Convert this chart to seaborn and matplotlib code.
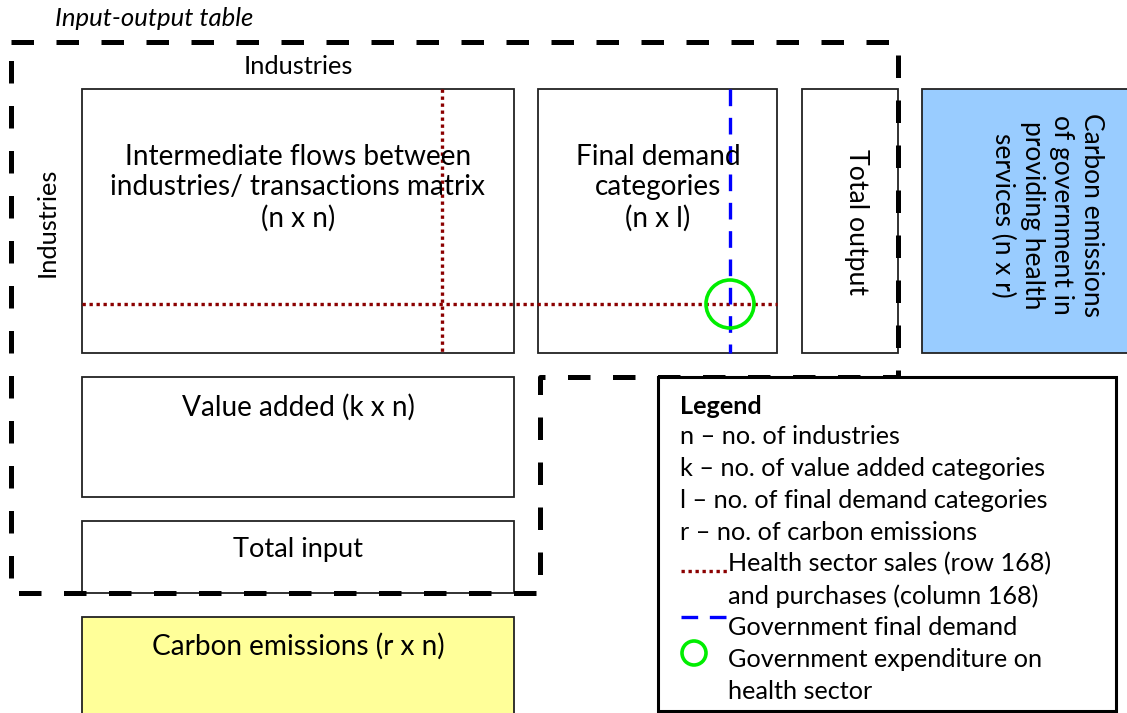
import matplotlib
matplotlib.use("Agg")
import matplotlib.pyplot as plt
import seaborn as sns
from matplotlib.patches import Rectangle, Circle

sns.set_theme(style="white")
plt.rcParams['font.family'] = ['Lato', 'DejaVu Sans']
plt.rcParams['text.color'] = 'black'

# ---- content ----
title = "Input-output table"
top_label = "Industries"
side_label = "Industries"
box_labels = [
    "Intermediate flows between\nindustries/ transactions matrix\n(n x n)",
    "Final demand\ncategories\n(n x l)",
    "Total output",
    "Carbon emissions\nof government in\nproviding health\nservices (n x r)",
    "Value added (k x n)",
    "Total input",
    "Carbon emissions (r x n)",
]
box_fills = ["white", "white", "white", "#99ccff", "white", "white", "#ffff99"]
legend_title = "Legend"
legend_lines = [
    "n \u2013 no. of industries",
    "k \u2013 no. of value added categories",
    "l \u2013 no. of final demand categories",
    "r \u2013 no. of carbon emissions",
]
legend_mark_lines = [
    "Health sector sales (row 168)",
    "and purchases (column 168)",
    "Government final demand",
    "Government expenditure on",
    "health sector",
]

# ---- layout (pixel coordinates) ----
W, H = 1127, 713
boxes = [  # x0, y0, x1, y1
    (82, 89, 514, 353),
    (538, 89, 777, 353),
    (802, 89, 898, 353),
    (922, 89, 1135, 353),
    (82, 377, 514, 497),
    (82, 521, 514, 593),
    (82, 617, 514, 720),
]
text_pos = [  # x, y, rotation, fontsize
    (298, 188, 0, 20.2),
    (658, 188, 0, 20.2),
    (857, 222, 270, 19.2),
    (1047, 215, 270, 19.0),
    (298, 407, 0, 20.2),
    (298, 550, 0, 19.6),
    (298, 646, 0, 20.2),
]

fig = plt.figure(figsize=(W / 100, H / 100), dpi=100)
ax = fig.add_axes([0, 0, 1, 1])
ax.set_xlim(0, W)
ax.set_ylim(H, 0)
ax.axis('off')

for (x0, y0, x1, y1), fc, lab, (tx, ty, rot, fs) in zip(boxes, box_fills, box_labels, text_pos):
    ax.add_patch(Rectangle((x0, y0), x1 - x0, y1 - y0, facecolor=fc,
                           edgecolor='#222222', lw=1.3, zorder=1))
    ax.text(tx, ty, lab, ha='center', va='center', rotation=rot, fontsize=fs,
            multialignment='center', linespacing=1.22, color='black', zorder=5)

# health sector row/column (dotted dark red)
ax.plot([82, 777], [304, 304], color='#8b0000', lw=2.4, ls=(0, (1, 1.1)), zorder=3)
ax.plot([442, 442], [89, 353], color='#8b0000', lw=2.4, ls=(0, (1, 1.1)), zorder=3)
# government final demand (dashed blue)
ax.plot([730, 730], [89, 353], color='#0000ff', lw=2.4, ls=(0, (5, 3.5)), zorder=3)
# government expenditure on health
ax.add_patch(Circle((730, 304), 24, fill=False, edgecolor='#00ee00', lw=2.6, zorder=4))

# input-output table boundary (thick dashed)
bx = [11, 898, 898, 540, 540, 11, 11]
by = [42, 42, 377, 377, 593, 593, 42]
ax.plot(bx, by, color='black', lw=3.6, ls=(0, (4.5, 4.5)), zorder=6,
        solid_capstyle='butt', dash_capstyle='butt')

ax.text(55, 18, title, fontsize=18.5, style='italic', ha='left', va='center', color='black')
ax.text(298, 67, top_label, fontsize=18.3, ha='center', va='center', color='black')
ax.text(47, 222, side_label, fontsize=18.3, ha='center', va='center', rotation=90, color='black')

# legend
LFS = 18.2
ax.add_patch(Rectangle((658, 377), 458, 334, facecolor='white', edgecolor='black',
                       lw=2.2, zorder=7))
ax.text(680, 407, legend_title, fontsize=LFS, fontweight='bold', ha='left', va='center',
        color='black', zorder=8)
for i, line in enumerate(legend_lines):
    ax.text(680, 437 + 32 * i, line, fontsize=LFS, ha='left', va='center', color='black', zorder=8)
ax.plot([681, 727], [571, 571], color='#8b0000', lw=2.4, ls=(0, (1, 1.1)), zorder=8)
ax.plot([681, 727], [617, 617], color='#0000ff', lw=2.4, ls=(0, (5, 3.5)), zorder=8)
ax.add_patch(Circle((694, 653), 12, fill=False, edgecolor='#00ee00', lw=2.6, zorder=8))
for i, line in enumerate(legend_mark_lines):
    ax.text(728, 564 + 31.8 * i, line, fontsize=LFS, ha='left', va='center', color='black', zorder=8)

fig.savefig("out.png", dpi=100)
